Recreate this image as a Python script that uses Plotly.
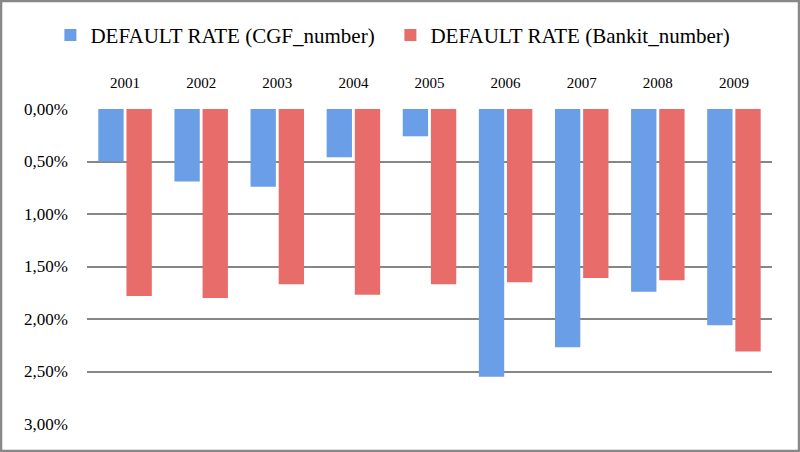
import plotly.graph_objects as go

years = ["2001", "2002", "2003", "2004", "2005", "2006", "2007", "2008", "2009"]
cgf_rate = [0.0050, 0.0069, 0.0074, 0.0046, 0.0026, 0.0255, 0.0227, 0.0174, 0.0206]
bankit_rate = [0.0178, 0.0180, 0.0167, 0.0177, 0.0167, 0.0165, 0.0161, 0.0163, 0.0231]
series_names = ["DEFAULT RATE (CGF_number)", "DEFAULT RATE (Bankit_number)"]
y_ticks = [0, 0.005, 0.01, 0.015, 0.02, 0.025, 0.03]

FONT = "Liberation Serif, Times New Roman, serif"

fig = go.Figure()
fig.add_trace(go.Bar(x=years, y=cgf_rate, name=series_names[0],
                     marker=dict(color="#6A9EE6", line=dict(width=0))))
fig.add_trace(go.Bar(x=years, y=bankit_rate, name=series_names[1],
                     marker=dict(color="#E86C6A", line=dict(width=0))))

fig.update_layout(
    width=800, height=452,
    margin=dict(l=87, r=28, t=109, b=28, autoexpand=False),
    paper_bgcolor="white", plot_bgcolor="white",
    separators=",.",
    barmode="group", bargap=0.26, bargroupgap=0.1,
    font=dict(family=FONT, color="black", size=16),
    legend=dict(orientation="h", xref="container", yref="container",
                x=0.063, xanchor="left", y=0.922, yanchor="middle",
                font=dict(family=FONT, size=21), itemwidth=30,
                entrywidth=295, entrywidthmode="pixels",
                bgcolor="rgba(0,0,0,0)"),
    showlegend=True,
    shapes=[dict(type="rect", xref="paper", yref="paper",
                 x0=-0.1255, x1=1.0394, y0=-0.0857, y1=1.3429,
                 line=dict(color="#888888", width=2.5), fillcolor="rgba(0,0,0,0)",
                 layer="below")],
)
fig.update_xaxes(side="top", showgrid=False, showline=False, zeroline=False,
                 automargin=False,
                 ticks="outside", ticklen=14, tickcolor="rgba(0,0,0,0)",
                 tickfont=dict(family=FONT, size=15))
fig.update_yaxes(range=[0.03, 0], tickvals=y_ticks, tickformat=".2%",
                 automargin=False,
                 showgrid=True, gridcolor="#868686", gridwidth=2,
                 zeroline=False, showline=False, ticks="",
                 ticklabelstandoff=18,
                 tickfont=dict(family=FONT, size=17))

fig.write_html("out.html", config={"displayModeBar": False},
               post_script="document.body.style.margin='0';document.body.style.overflow='hidden';")
